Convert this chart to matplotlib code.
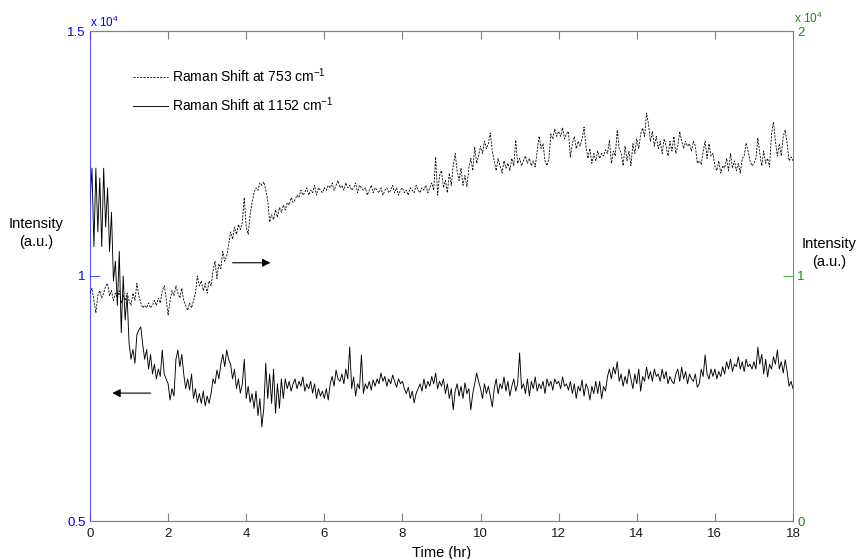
import numpy as np
import matplotlib
matplotlib.use("Agg")
import matplotlib.pyplot as plt

plt.rcParams['font.family'] = ['Liberation Sans', 'DejaVu Sans']
plt.rcParams['mathtext.fontset'] = 'custom'
plt.rcParams['mathtext.rm'] = 'Liberation Sans'
plt.rcParams['mathtext.it'] = 'Liberation Sans:italic'

# ---- data ----
x_ticks = [0, 2, 4, 6, 8, 10, 12, 14, 16, 18]
left_ticks = [5000, 10000, 15000]
left_tick_labels = ['0.5', '1', '1.5']
right_ticks = [0, 10000, 20000]
right_tick_labels = ['0', '1', '2']

label_753 = 'Raman Shift at 753 cm$^{-1}$'
label_1152 = 'Raman Shift at 1152 cm$^{-1}$'

# Raman shift at 753 cm-1 (right axis), sampled every 0.05 hr, 0..18 hr
intensity_753 = [
    9300, 9500, 9000, 8500, 9200, 9400, 9100, 9300, 9600, 9700, 9200, 9400, 9000, 9300, 9100, 9400, 8900, 9200, 9000, 9300,
    9000, 8800, 9300, 9000, 9700, 9200, 8900, 8700, 8800, 8700, 8900, 8700, 8800, 9000, 8800, 9100, 8900, 9400, 9600, 9100,
    8400, 9000, 9400, 9200, 9600, 9300, 9100, 9500, 9000, 8800, 8600, 8900, 8700, 9000, 9300, 10000, 9600, 9800, 9400, 9700,
    9300, 9800, 9600, 10200, 10600, 9900, 10500, 10300, 11000, 10600, 10800, 11300, 11800, 11500, 12000, 11700, 12100, 11900, 12200, 13200,
    12000, 11700, 12500, 13000, 13400, 13600, 13500, 13800, 13700, 13840, 13500, 13100, 12200, 12500, 12300, 12700, 12400, 12800, 12600, 12900,
    12700, 13000, 12900, 13200, 13000, 13100, 13300, 13200, 13500, 13300, 13400, 13600, 13300, 13500, 13400, 13700, 13300, 13600, 13500, 13400,
    13600, 13500, 13700, 13600, 13800, 13500, 13700, 13900, 13600, 13700, 13500, 13800, 13600, 13700, 13500, 13600, 13800, 13400, 13700, 13600,
    13500, 13600, 13300, 13500, 13700, 13400, 13600, 13500, 13400, 13600, 13300, 13500, 13600, 13400, 13500, 13700, 13400, 13600, 13300, 13500,
    13600, 13400, 13500, 13300, 13600, 13500, 13400, 13700, 13500, 13400, 13600, 13500, 13700, 13400, 13600, 13800, 13500, 14860, 13300, 14100,
    14300, 13600, 13900, 13400, 14200, 13700, 14500, 15000, 14300, 13900, 14400, 13700, 14100, 13650, 14400, 14800, 14300, 15270, 14600, 14900,
    15300, 15000, 15500, 15200, 15400, 15840, 15100, 14700, 14300, 14800, 14500, 14200, 14700, 14400, 14600, 14300, 14800, 14500, 15550, 14600,
    14800, 14500, 14700, 14900, 14600, 14800, 14500, 14700, 14450, 15100, 15700, 15200, 15400, 14700, 14500, 14800, 15800, 15600, 16000, 15700,
    15900, 15700, 16040, 15600, 15800, 15900, 14850, 15400, 15700, 15200, 15500, 15300, 15600, 16080, 15300, 14800, 15200, 14600, 15000, 14700,
    15100, 14800, 15000, 14900, 15150, 15000, 15550, 14600, 15100, 14900, 15960, 15200, 15000, 14500, 15300, 14700, 15100, 14500, 15400, 15000,
    15600, 15200, 15800, 16040, 15700, 16650, 16200, 15500, 15900, 15300, 15700, 15200, 15500, 15000, 15600, 15300, 14900, 15500, 15100, 15700,
    15000, 15300, 15900, 15500, 15200, 15500, 15300, 15400, 15100, 15500, 15300, 14600, 14700, 14550, 15100, 15500, 14800, 15400, 14900, 15000,
    14500, 14300, 14700, 14200, 14500, 14400, 14800, 14300, 15000, 14400, 14700, 14300, 14600, 14200, 14800, 14900, 15430, 15100, 14700, 14500,
    14600, 14800, 15630, 15000, 14500, 15100, 14600, 14800, 14450, 15800, 16290, 15500, 14900, 15400, 14900, 15700, 15960, 15400, 14700, 14860,
    14700,
]

# Raman shift at 1152 cm-1 (left axis), sampled every 0.05 hr, 0..18 hr
intensity_1152 = [
    11500, 12200, 10600, 12200, 10900, 12000, 10600, 12200, 11000, 11800, 10500, 11300, 9900, 10300, 9400, 10500, 8840, 10000, 9100, 9600,
    8630, 8300, 8500, 8220, 8800, 8900, 8960, 8600, 8300, 8500, 8100, 8400, 8000, 8200, 7900, 8100, 7950, 8490, 8000, 7900,
    7800, 7470, 7700, 7550, 8300, 8490, 8150, 8400, 8000, 7700, 7900, 7670, 8000, 7500, 7700, 7420, 7600, 7400, 7650, 7350,
    7550, 7400, 7600, 7900, 7800, 8080, 7900, 8200, 8400, 8150, 8490, 8300, 8200, 7900, 8100, 7700, 7900, 7610, 7800, 8300,
    7500, 7750, 7420, 7600, 7300, 7650, 7150, 7500, 6920, 7300, 8220, 7500, 8000, 7400, 8100, 7200, 7800, 7300, 7900, 7500,
    7900, 7700, 7850, 7650, 7800, 7900, 7700, 7850, 7750, 7940, 7650, 7800, 7700, 7850, 7610, 7800, 7500, 7700, 7550, 7650,
    7500, 7700, 7470, 7800, 7950, 7750, 8080, 7900, 7850, 8000, 7800, 8100, 7900, 8550, 7700, 7940, 7550, 7800, 7700, 8390,
    7600, 7800, 7700, 7850, 7670, 7880, 7750, 7900, 7800, 8020, 7850, 7950, 7750, 7900, 7800, 7980, 7850, 7730, 7900, 7800,
    7850, 7700, 7600, 7730, 7500, 7650, 7410, 7600, 7700, 7800, 7650, 7900, 7700, 7850, 7750, 7950, 7800, 8020, 7700, 7850,
    7750, 7900, 7600, 7800, 7500, 7700, 7270, 7650, 7800, 7550, 7750, 7500, 7820, 7600, 7700, 7270, 7600, 7800, 8020, 7850,
    7700, 7500, 7800, 7600, 7750, 7550, 7330, 7700, 7900, 7600, 7800, 7700, 7940, 7650, 7850, 7550, 7750, 7900, 7650, 7800,
    8430, 7700, 7800, 7600, 7900, 7550, 7850, 7700, 7940, 7650, 7800, 7700, 7850, 7600, 7900, 7750, 7850, 7670, 7900, 7800,
    7850, 7700, 7940, 7750, 7800, 7670, 7850, 7600, 7800, 7500, 7750, 7650, 7880, 7550, 7800, 7700, 7470, 7750, 7600, 7850,
    7600, 7850, 7500, 7750, 7650, 7950, 8100, 7900, 8140, 8000, 8250, 7850, 8000, 7750, 7950, 7800, 8100, 7900, 7700, 8000,
    7800, 8100, 7650, 7950, 7850, 8140, 7900, 8050, 7850, 8100, 7950, 8000, 7850, 8100, 7900, 8050, 7800, 7950, 7850, 7800,
    8000, 8100, 7850, 8140, 7900, 8050, 7800, 8000, 7900, 7850, 8000, 7730, 7800, 8100, 7950, 8390, 8000, 7900, 8100, 7950,
    8100, 7900, 8050, 7950, 8150, 8000, 8250, 8100, 8300, 8050, 8200, 8150, 8350, 8100, 8250, 8050, 8300, 8150, 8200, 8100,
    8250, 8100, 8550, 8200, 8400, 8000, 8300, 7940, 8200, 8100, 8350, 8200, 8490, 8100, 8250, 8020, 8290, 8050, 7750, 7850,
    7700,
]

time_753 = np.linspace(0, 18, len(intensity_753))
time_1152 = np.linspace(0, 18, len(intensity_1152))

# arrow annotations (time, intensity on left axis)
arrow_right = ((3.65, 10270), (4.62, 10270))
arrow_left = ((1.55, 7610), (0.57, 7610))

BLUE = '#3030ff'
GREEN = '#20a020'
GRAY = '#808080'

fig = plt.figure(figsize=(8.6, 5.59), dpi=100)
ax = fig.add_axes([90/860, 1-521/559, (793-90)/860, (521-31)/559])
ax2 = ax.twinx()

l1152, = ax.plot(time_1152, intensity_1152, color='black', lw=0.65, label=label_1152)
l753, = ax2.plot(time_753, intensity_753, color='black', lw=0.6,
                 linestyle=(0, (2.5, 1.5)), label=label_753)

ax.set_xlim(0, 18)
ax.set_ylim(5000, 15000)
ax2.set_ylim(0, 20000)

ax.set_xticks(x_ticks)
ax.set_xticklabels([str(v) for v in x_ticks])
ax.set_yticks(left_ticks)
ax.set_yticklabels(left_tick_labels)
ax2.set_yticks(right_ticks)
ax2.set_yticklabels(right_tick_labels)

for a in (ax, ax2):
    for s in ('top', 'bottom'):
        a.spines[s].set_color(GRAY)
        a.spines[s].set_linewidth(0.8)
ax.spines['left'].set_color(BLUE)
ax.spines['left'].set_linewidth(0.6)
ax.spines['right'].set_visible(False)
ax2.spines['left'].set_visible(False)
ax2.spines['right'].set_color(GREEN)
ax2.spines['right'].set_linewidth(0.6)

ax.tick_params(axis='x', direction='in', top=True, bottom=True, length=6,
               width=0.8, color=GRAY, labelcolor='#1a1a1a', labelsize=9.5, pad=5)
ax.tick_params(axis='y', direction='in', length=7, width=0.6, color=BLUE,
               labelcolor='#0000ff', labelsize=9.5, pad=3)
ax2.tick_params(axis='y', direction='in', length=7, width=0.6, color=GREEN,
                labelcolor='#109010', labelsize=9.5, pad=3)

ax.set_xlabel('Time (hr)', fontsize=10.5, labelpad=4)

fig.text(36/860, 1-233/559, 'Intensity\n(a.u.)', ha='center', va='center',
         fontsize=10.5, linespacing=1.4)
fig.text(829/860, 1-253/559, 'Intensity\n(a.u.)', ha='center', va='center',
         fontsize=10.5, linespacing=1.4)

fig.text(90/860, 1-27/559, r'x 10$^4$', color='#0000ff', fontsize=8.5, ha='left', va='baseline')
fig.text(794/860, 1-23/559, r'x 10$^4$', color='#109010', fontsize=8.5, ha='left', va='baseline')

for (p0, p1) in (arrow_right, arrow_left):
    ax.annotate('', xy=p1, xytext=p0, xycoords='data', textcoords='data',
                arrowprops=dict(arrowstyle='-|>', color='black', lw=0.8,
                                mutation_scale=12, shrinkA=0, shrinkB=0))

leg = fig.legend(handles=[l753, l1152], loc='upper left',
                 bbox_to_anchor=(133/860, 1-66/559), frameon=False,
                 fontsize=10, handlelength=2.5, handletextpad=0.3,
                 labelspacing=0.75, borderpad=0, borderaxespad=0)

fig.savefig('out.png', dpi=100)
